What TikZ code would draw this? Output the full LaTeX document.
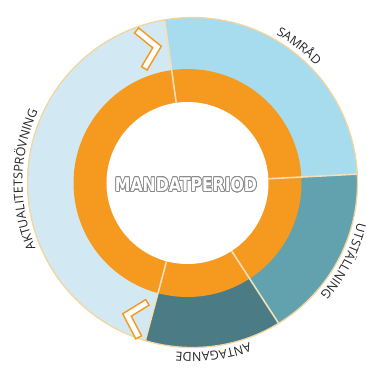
\documentclass[tikz,border=0pt]{standalone}
\usepackage{fontspec}
\setmainfont{Open Sans}
\newfontfamily\labelfont{Open Sans}
\newfontfamily\titlefont{DejaVu Sans}
\usepackage{graphicx}
\usepackage{contour}
\contourlength{0.45pt}
\usetikzlibrary{decorations.text,calc}
\definecolor{samradc}{HTML}{A6DCEE}
\definecolor{aktualc}{HTML}{D2E9F3}
\definecolor{utstc}{HTML}{62A2AE}
\definecolor{antagc}{HTML}{4B7B84}
\definecolor{orangec}{HTML}{F59A1F}
\definecolor{dividerc}{HTML}{F3E0B8}
\definecolor{rimc}{HTML}{F2D5A0}
\definecolor{labelc}{HTML}{262626}
\definecolor{titlegray}{HTML}{8C8C8C}
\tikzset{
  divider/.style={draw=dividerc, line width=1.6pt},
  chevout/.style={draw=orangec, line width=8pt, line join=miter, line cap=butt},
  chevin/.style={draw=white, line width=4.8pt, line join=miter, line cap=butt, shorten <=1.6pt, shorten >=1.6pt},
  arclabel/.style={decorate, decoration={text along path, text align=center, text color=labelc, text={|\labelfont\fontsize{12.5}{14}\selectfont|#1}}}
}
\begin{document}
\begin{tikzpicture}[x=1pt,y=1pt]
\useasboundingbox (-187.5,-185) rectangle (179.5,183);
\coordinate (O) at (0,0);
\coordinate (C) at (5,0.5);
% outer sectors
\begin{scope}
  \clip (C) circle[radius=165pt];
  \fill[samradc] (O) -- (3:260pt) arc[start angle=3, end angle=98, radius=260pt] -- cycle;
  \fill[aktualc] (O) -- (98:260pt) arc[start angle=98, end angle=255, radius=260pt] -- cycle;
  \fill[antagc] (O) -- (255:260pt) arc[start angle=255, end angle=303, radius=260pt] -- cycle;
  \fill[utstc] (O) -- (303:260pt) arc[start angle=303, end angle=363, radius=260pt] -- cycle;
\end{scope}
% orange ring
\fill[orangec] (O) circle[radius=114pt];
\fill[white] (O) circle[radius=81pt];
% dividers
\begin{scope}
  \clip (C) circle[radius=165pt];
  \foreach \a in {98,3,-57,-105} {
    \draw[divider] (\a:81pt) -- (\a:260pt);
  }
\end{scope}
\draw[draw=rimc, line width=1.3pt] (C) circle[radius=165pt];
% chevrons
\draw[chevout] (-51.5,153) -- (-30.5,136) -- (-43.5,114);
\draw[chevin] (-51.5,153) -- (-30.5,136) -- (-43.5,114);
\draw[chevout] (-39.5,-119) -- (-60.5,-132) -- (-48.5,-155);
\draw[chevin] (-39.5,-119) -- (-60.5,-132) -- (-48.5,-155);
% labels along the rim
\path[arclabel=SAMRÅD] ($(C)+(82:170pt)$) arc[start angle=82, end angle=22, radius=170pt];
\path[arclabel=UTSTÄLLNING] ($(C)+(5:170pt)$) arc[start angle=5, end angle=-60, radius=170pt];
\path[arclabel=ANTAGANDE] ($(C)+(-53:170pt)$) arc[start angle=-53, end angle=-113, radius=170pt];
\path[arclabel=AKTUALITETSPRÖVNING] ($(C)+(220:170pt)$) arc[start angle=220, end angle=138, radius=170pt];
% centre title
\node[inner sep=0pt] (title) at (-1.5,-2) {\resizebox{142pt}{14pt}{\titlefont\bfseries\contour{titlegray}{\textcolor{white}{MANDATPERIOD}}}};
\end{tikzpicture}
\end{document}
